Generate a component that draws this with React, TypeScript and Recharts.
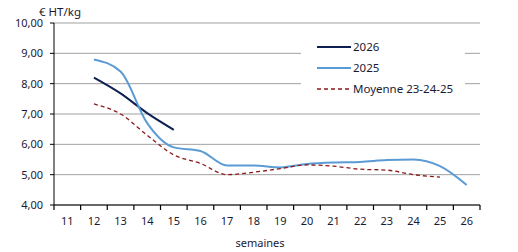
import React from "react";
import { LineChart, Line, XAxis, YAxis, CartesianGrid, Label } from "recharts";

const WEEKS = [11, 12, 13, 14, 15, 16, 17, 18, 19, 20, 21, 22, 23, 24, 25, 26];
const S2026 = [null, 8.2, 7.68, 7.03, 6.48, null, null, null, null, null, null, null, null, null, null, null];
const S2025 = [null, 8.8, 8.4, 6.7, 5.9, 5.78, 5.3, 5.3, 5.24, 5.35, 5.4, 5.42, 5.48, 5.5, 5.28, 4.66];
const MOYENNE = [null, 7.33, 7.0, 6.3, 5.65, 5.37, 5.0, 5.08, 5.2, 5.32, 5.28, 5.18, 5.15, 5.0, 4.92, null];
const Y_TICKS = [4, 5, 6, 7, 8, 9, 10];

const SERIES = [
  { key: "s2026", name: "2026", color: "#0e1f52", width: 2, dash: undefined as string | undefined },
  { key: "s2025", name: "2025", color: "#5b9bd5", width: 2, dash: undefined as string | undefined },
  { key: "moy", name: "Moyenne 23-24-25", color: "#8b1a1a", width: 1.3, dash: "4 3" },
];

const data = WEEKS.map((w, i) => ({
  week: w,
  s2026: S2026[i],
  s2025: S2025[i],
  moy: MOYENNE[i],
}));

const TEXT = "#1a1a33";
const FONT = "'Noto Sans', sans-serif";

const W = 518;
const H = 252;
const MARGIN = { top: 23, right: 38, left: 0, bottom: 0 };
const Y_WIDTH = 54;
// half a category, in px, to put tick marks between weeks
const HALF = (W - Y_WIDTH - MARGIN.right) / WEEKS.length / 2;
const TICK_MARGIN = 12;

function WeekTick(props: any) {
  const { x, y, payload, index } = props;
  const axisY = y - TICK_MARGIN;
  const last = index === WEEKS.length - 1;
  return (
    <g>
      <line x1={x - HALF} y1={axisY} x2={x - HALF} y2={axisY + 5} stroke="#000" strokeWidth={1.2} />
      {last && <line x1={x + HALF} y1={axisY} x2={x + HALF} y2={axisY + 5} stroke="#000" strokeWidth={1.2} />}
      <text x={x} y={y} dy="0.71em" textAnchor="middle" fill={TEXT} fontSize={11} fontFamily={FONT}>
        {payload.value}
      </text>
    </g>
  );
}

function LegendBox() {
  return (
    <div
      style={{
        position: "absolute",
        left: 301,
        top: 30,
        width: 164,
        background: "#fff",
        padding: "6px 0 10px 16px",
        boxSizing: "border-box",
        fontFamily: FONT,
        fontSize: 11.5,
        color: TEXT,
      }}
    >
      {SERIES.map((s) => (
        <div key={s.key} style={{ display: "flex", alignItems: "center", height: 21 }}>
          <svg width={34} height={6} style={{ marginRight: 2 }}>
            <line x1={0} y1={3} x2={34} y2={3} stroke={s.color} strokeWidth={s.width} strokeDasharray={s.dash} />
          </svg>
          <span>{s.name}</span>
        </div>
      ))}
    </div>
  );
}

export default function App() {
  return (
    <div style={{ position: "absolute", left: 0, top: 0, width: W, height: H, background: "#fff" }}>
      <LineChart width={W} height={H} data={data} margin={MARGIN}>
        <CartesianGrid vertical={false} stroke="#a0a0a0" />
        <XAxis
          dataKey="week"
          type="number"
          domain={[10.5, 26.5]}
          ticks={WEEKS}
          interval={0}
          height={47}
          stroke="#000"
          tickLine={false}
          tickSize={0}
          tickMargin={TICK_MARGIN}
          tick={<WeekTick />}
        >
          <Label value="semaines" position="insideBottom" offset={5} fill={TEXT} fontSize={11} fontFamily={FONT} dx={-7} />
        </XAxis>
        <YAxis
          domain={[4, 10]}
          ticks={Y_TICKS}
          width={Y_WIDTH}
          tickSize={4}
          tickMargin={7}
          stroke="#000"
          tickFormatter={(v: number) => v.toFixed(2).replace(".", ",")}
          tick={{ fill: TEXT, fontSize: 11, fontFamily: FONT }}
        >
          <Label value="€ HT/kg" position="top" offset={7} dx={33} fill={TEXT} fontSize={11.5} fontFamily={FONT} />
        </YAxis>
        {SERIES.map((s) => (
          <Line
            key={s.key}
            dataKey={s.key}
            name={s.name}
            type="monotone"
            stroke={s.color}
            strokeWidth={s.width}
            strokeDasharray={s.dash}
            dot={false}
            activeDot={false}
            connectNulls={false}
            isAnimationActive={false}
          />
        ))}
      </LineChart>
      <LegendBox />
    </div>
  );
}
